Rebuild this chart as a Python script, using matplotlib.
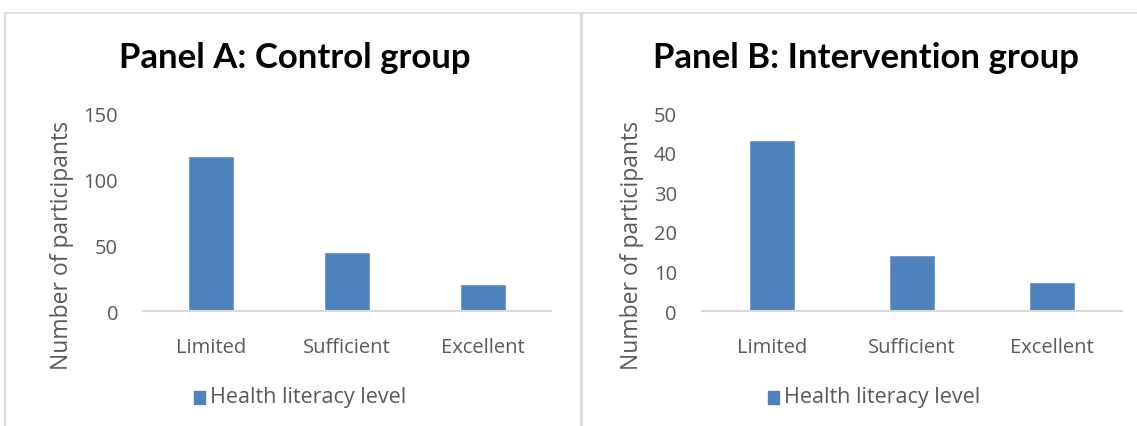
import matplotlib.pyplot as plt
from matplotlib.patches import Rectangle

categories = ["Limited", "Sufficient", "Excellent"]
control = [117, 44, 20]
intervention = [43, 14, 7]
series_name = "Health literacy level"

W, H = 1137, 427
fig = plt.figure(figsize=(W / 100, H / 100), dpi=100)
plt.rcParams["font.family"] = ["Open Sans", "DejaVu Sans"]

bar_color = "#4f81bd"
text_gray = "#595959"
line_gray = "#d9d9d9"

# panel frames (pixel coords -> figure fraction)
def px(x0, y0, x1, y1):
    return [x0 / W, 1 - y1 / H, (x1 - x0) / W, (y1 - y0) / H]

for x0, x1 in [(5, 581), (582, 1150)]:
    r = px(x0, 14, x1, 440)
    fig.patches.append(Rectangle((r[0], r[1]), r[2], r[3], transform=fig.transFigure,
                                 fill=False, edgecolor=line_gray, linewidth=1.2))

panels = [
    ("Panel A: Control group", control, [0, 50, 100, 150], (143, 551), 295, 210, 62),
    ("Panel B: Intervention group", intervention, [0, 10, 20, 30, 40, 50], (702, 1122), 866, 784, 632),
]

for title, vals, yticks, (xa, xb), title_x, leg_x, ylab_x in panels:
    ax = fig.add_axes(px(xa, 114, xb, 312))
    ax.bar(range(len(categories)), vals, width=0.32, color=bar_color,
           edgecolor="#6f96c8", linewidth=0.6, label=series_name)
    ax.set_xlim(-0.5, 2.5)
    ax.set_ylim(0, yticks[-1])
    ax.set_yticks(yticks)
    ax.set_xticks(range(len(categories)))
    ax.set_xticklabels(categories)
    for s in ["top", "right", "left"]:
        ax.spines[s].set_visible(False)
    ax.spines["bottom"].set_color(line_gray)
    ax.spines["bottom"].set_linewidth(1.5)
    ax.tick_params(length=0, labelsize=14.5, colors=text_gray)
    ax.tick_params(axis="x", pad=19)
    ax.tick_params(axis="y", pad=18)
    ax.set_ylabel("Number of participants", fontsize=16.5, color=text_gray, va="center")
    ax.yaxis.set_label_coords((ylab_x - xa) / (xb - xa), (312 - 246) / 198)
    fig.text(title_x / W, 1 - 58 / H, title, fontsize=25, fontweight="bold",
             family=["Lato", "DejaVu Sans"], ha="center", va="center", color="black")
    fig.patches.append(Rectangle(((leg_x - 16) / W, 1 - 405 / H), 11 / W, 13 / H,
                                 transform=fig.transFigure, color=bar_color))
    fig.text(leg_x / W, 1 - 398 / H, series_name, fontsize=15.5, color=text_gray,
             ha="left", va="center")

fig.savefig("out.png", dpi=100)
